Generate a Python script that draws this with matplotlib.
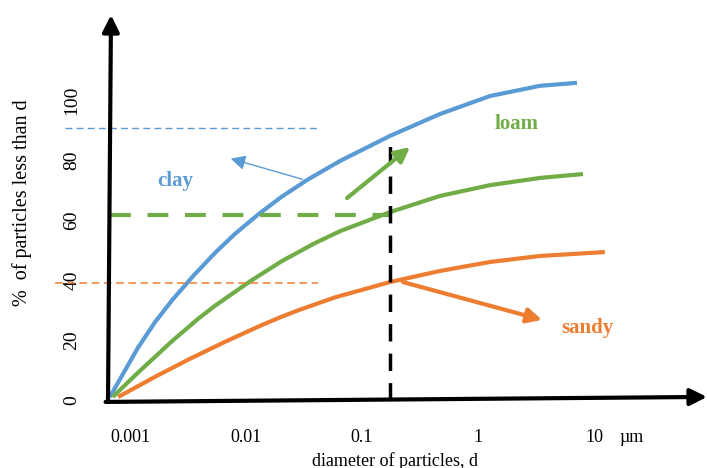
import matplotlib.pyplot as plt
import numpy as np

plt.rcParams['font.family'] = ['Liberation Serif', 'DejaVu Serif']

# particle size distribution curves, d in micrometres, y in % finer than d
clay_d = [0.00067, 0.00091, 0.00117, 0.00164, 0.0023, 0.0035, 0.0054, 0.008,
          0.0127, 0.0204, 0.0342, 0.065, 0.174, 0.47, 1.27, 3.42, 7.13]
clay_pct = [1.0, 10.0, 17.4, 25.9, 33.2, 41.3, 49.0, 55.3,
            61.8, 67.8, 73.5, 79.7, 88.0, 95.3, 101.3, 104.7, 105.7]

loam_d = [0.00071, 0.00117, 0.0023, 0.00385, 0.0054, 0.0108, 0.0204, 0.0394,
          0.065, 0.174, 0.47, 1.27, 3.42, 8.04]
loam_pct = [1.0, 9.1, 19.6, 27.0, 31.4, 39.5, 46.3, 52.3,
            56.3, 62.6, 68.0, 71.6, 74.0, 75.3]

sandy_d = [0.00079, 0.00164, 0.00316, 0.0066, 0.0132, 0.0204, 0.0292, 0.0585,
           0.174, 0.47, 1.27, 3.42, 12.4]
sandy_pct = [1.0, 7.7, 13.4, 19.4, 24.7, 27.8, 30.1, 34.2,
             39.3, 43.0, 46.0, 48.0, 49.3]

xticks = [0.001, 0.01, 0.1, 1, 10]
xtick_labels = ['0.001', '0.01', '0.1', '1', '10']
yticks = [0, 20, 40, 60, 80, 100]

blue = '#5B9BD5'
green = '#70AD47'
orange = '#ED7D31'

fig = plt.figure(figsize=(7.07, 4.68), dpi=100)
ax = fig.add_axes([108 / 707, 68 / 468, 599 / 707, 385 / 468])
ax.set_xscale('log')
ax.set_xlim(10 ** (-3 - 22 / 116), 10 ** (-3 + 577 / 116))
ax.set_ylim(0, 128.3)
for s in ax.spines.values():
    s.set_visible(False)

# curves
for d, pct, c in [(clay_d, clay_pct, blue), (loam_d, loam_pct, green),
                  (sandy_d, sandy_pct, orange)]:
    ax.plot(d, pct, color=c, lw=3, solid_capstyle='butt',
            solid_joinstyle='round', clip_on=False)

# guide lines
ax.plot([10 ** -3.56, 10 ** -1.38], [90.7, 90.7], color=blue, lw=1,
        dashes=(5, 3), clip_on=False)
ax.plot([10 ** -3.65, 10 ** -1.38], [39.0, 39.0], color=orange, lw=1.1,
        dashes=(5, 3), clip_on=False)
ax.plot([10 ** -3.17, 0.17], [61.7, 61.7], color=green, lw=3, dashes=(5, 4))
ax.plot([0.174, 0.174], [0, 86.7], color='black', lw=2.5, dashes=(5, 3.5))

# pointer arrows
ax.annotate('', xy=(10 ** -2.155, 80.7), xytext=(10 ** -1.491, 73.3),
            arrowprops=dict(arrowstyle='-|>', color=blue, lw=1, mutation_scale=22))
ax.annotate('', xy=(10 ** -0.586, 84.3), xytext=(10 ** -1.129, 67.3),
            arrowprops=dict(arrowstyle='-|>', color=green, lw=3, mutation_scale=22,
                            shrinkA=0, shrinkB=0))
ax.annotate('', xy=(10 ** 0.552, 26.7), xytext=(10 ** -0.647, 39.3),
            arrowprops=dict(arrowstyle='-|>', color=orange, lw=3, mutation_scale=22,
                            shrinkA=0, shrinkB=0))

# series labels
ax.text(10 ** -2.612, 73, 'clay', color=blue, fontsize=15, fontweight='bold',
        ha='center', va='center')
ax.text(10 ** 0.328, 92, 'loam', color=green, fontsize=15, fontweight='bold',
        ha='center', va='center')
ax.text(10 ** 0.94, 24, 'sandy', color=orange, fontsize=15, fontweight='bold',
        ha='center', va='center')

# drawn axes with arrow heads
ax.annotate('', xy=(0.005, 1.0), xytext=(0.0, -0.005), xycoords='axes fraction',
            arrowprops=dict(arrowstyle='-|>', color='black', lw=3, mutation_scale=25,
                            shrinkA=0, shrinkB=0))
ax.annotate('', xy=(1.0, 0.008), xytext=(-0.004, -0.005), xycoords='axes fraction',
            arrowprops=dict(arrowstyle='-|>', color='black', lw=3, mutation_scale=25,
                            shrinkA=0, shrinkB=0))

ax.set_xticks(xticks)
ax.set_xticklabels(xtick_labels, fontsize=13)
ax.minorticks_off()
ax.tick_params(axis='x', length=0, pad=21)
ax.set_yticks(yticks)
ax.set_yticklabels([str(v) for v in yticks], fontsize=14, rotation=90, va='center')
ax.tick_params(axis='y', length=0, pad=20)

fig.text(632 / 707, 1 - 437 / 468, 'µm', fontsize=13, ha='center', va='center')
fig.text(395 / 707, 1 - 461 / 468, 'diameter of particles, d', fontsize=13,
         ha='center', va='center')
fig.text(22 / 707, 1 - 203 / 468, '%  of particles less than d', fontsize=14.5,
         rotation=90, ha='center', va='center')

fig.savefig('out.png', dpi=100)
